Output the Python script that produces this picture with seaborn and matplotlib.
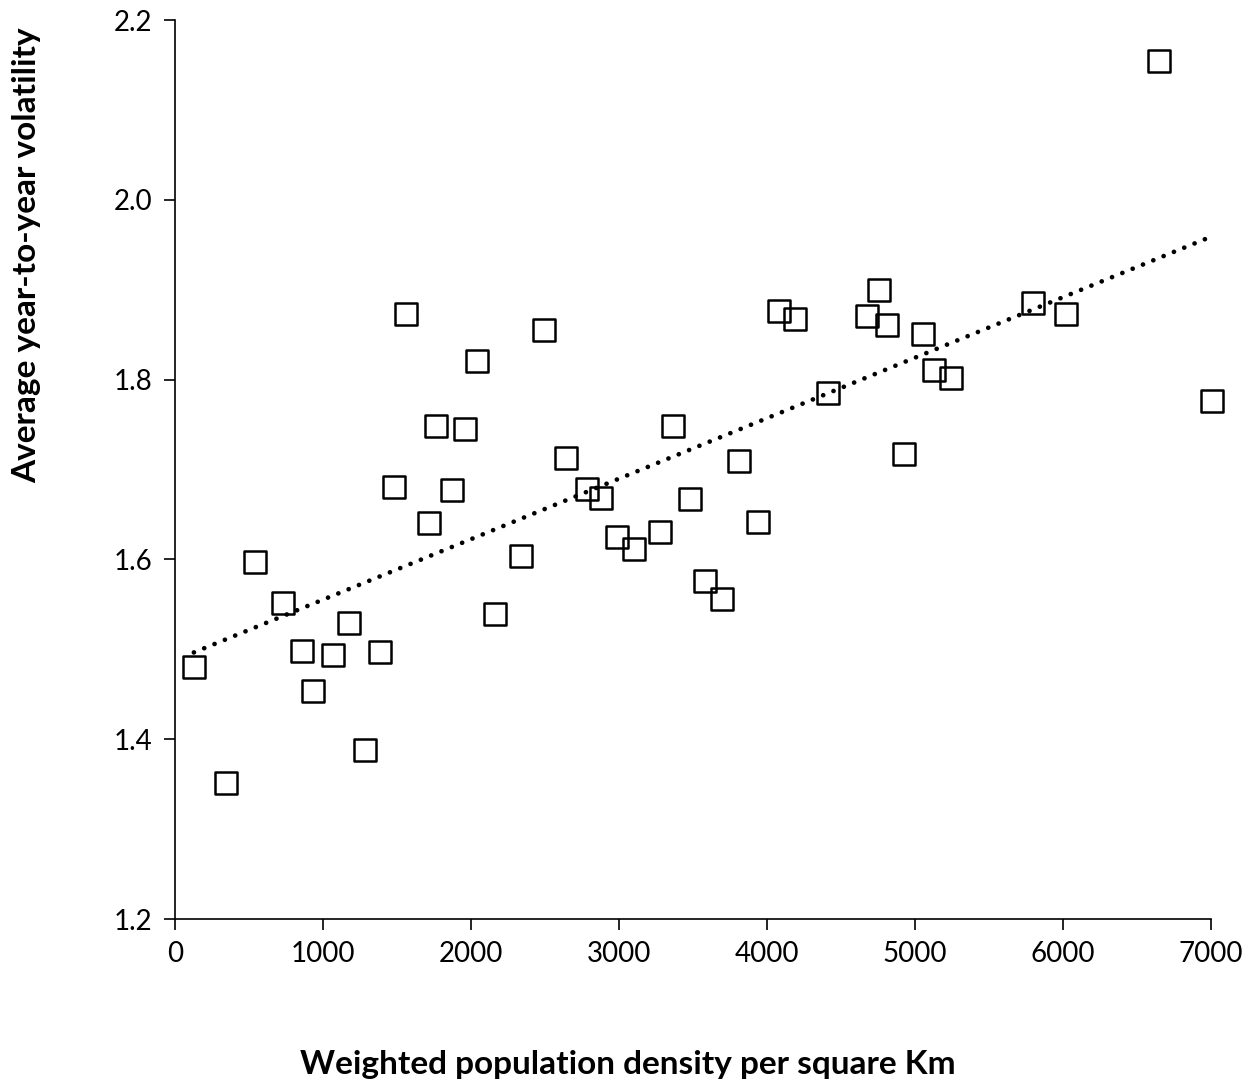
import numpy as np
import pandas as pd
import matplotlib
matplotlib.use("Agg")
import matplotlib.pyplot as plt
import seaborn as sns

density = [128, 345, 541, 730, 858, 932, 1068, 1176, 1284, 1385, 1480, 1561, 1716, 1764,
           1872, 1959, 2041, 2162, 2338, 2493, 2642, 2784, 2878, 2986, 3101, 3277, 3365,
           3480, 3581, 3696, 3811, 3939, 4081, 4189, 4412, 4676, 4757, 4811, 4926, 5054,
           5128, 5243, 5797, 6020, 6649, 7007]
volatility = [1.480, 1.351, 1.597, 1.551, 1.498, 1.454, 1.494, 1.529, 1.388, 1.497, 1.681,
              1.873, 1.640, 1.748, 1.677, 1.745, 1.821, 1.539, 1.604, 1.855, 1.713, 1.678,
              1.668, 1.625, 1.612, 1.630, 1.748, 1.667, 1.576, 1.556, 1.709, 1.642, 1.876,
              1.867, 1.785, 1.871, 1.900, 1.861, 1.717, 1.851, 1.811, 1.802, 1.885, 1.873,
              2.154, 1.776]
x_ticks = [0, 1000, 2000, 3000, 4000, 5000, 6000, 7000]
y_ticks = [1.2, 1.4, 1.6, 1.8, 2.0, 2.2]

df = pd.DataFrame({"density": density, "volatility": volatility})

sns.set_theme(style="ticks")
plt.rcParams["font.family"] = ["Lato", "DejaVu Sans"]

fig = plt.figure(figsize=(12.55, 10.84), dpi=100)
ax = fig.add_axes([0.1394, 0.1522, 0.8256, 0.8293])

# trend line (linear fit)
coef = np.polyfit(df["density"], df["volatility"], 1)
xs = np.array([df["density"].min(), 6975])
trend = pd.DataFrame({"x": xs, "y": np.polyval(coef, xs)})
sns.lineplot(data=trend, x="x", y="y", ax=ax, color="black", linewidth=3.4,
             linestyle=(0, (0.01, 2.35)), dash_capstyle="round", zorder=3)

sns.scatterplot(data=df, x="density", y="volatility", ax=ax, marker="s", s=250,
                facecolor="white", edgecolor="black", linewidth=1.8, zorder=2,
                clip_on=False)
for c in ax.collections:
    c.set_facecolor("none")
    c.set_clip_on(False)

ax.set_xlim(0, 7000)
ax.set_ylim(1.2, 2.2)
ax.set_xticks(x_ticks)
ax.set_xticklabels([str(t) for t in x_ticks])
ax.set_yticks(y_ticks)
ax.set_yticklabels([f"{t:.1f}" for t in y_ticks])
ax.tick_params(axis="both", direction="out", length=8, width=1.2, labelsize=20,
               colors="black", pad=8)
for s in ["top", "right"]:
    ax.spines[s].set_visible(False)
for s in ["left", "bottom"]:
    ax.spines[s].set_color("black")
    ax.spines[s].set_linewidth(1.2)

ax.set_xlabel("Weighted population density per square Km", fontsize=24,
              fontweight="bold", color="black", va="center")
ax.set_ylabel("Average year-to-year volatility", fontsize=24,
              fontweight="bold", color="black", va="center")
ax.xaxis.set_label_coords(0.437, -0.1613)
ax.yaxis.set_label_coords(-0.1429, 0.7386)

fig.savefig("out.png", dpi=100, facecolor="white")
